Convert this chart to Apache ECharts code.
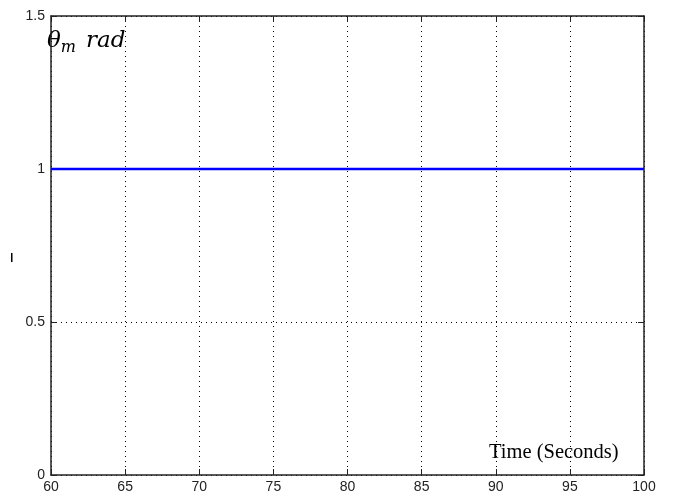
<!DOCTYPE html>
<html><head><meta charset="utf-8">
<script src="https://cdn.jsdelivr.net/npm/echarts@6/dist/echarts.min.js"></script>
<style>html,body{margin:0;padding:0;background:#fff}#c{width:674px;height:498px}</style>
</head><body><div id="c"></div>
<script>
const timeValues = [60, 65, 70, 75, 80, 85, 90, 95, 100];
const thetaValues = [1, 1, 1, 1, 1, 1, 1, 1, 1];
const xTicks = [60, 65, 70, 75, 80, 85, 90, 95, 100];
const yTicks = [0, 0.5, 1, 1.5];

const chart = echarts.init(document.getElementById('c'));
const dotted = {show: true, lineStyle: {color: '#000', width: 1, type: [1, 4]}};
const axLine = {show: true, onZero: false, lineStyle: {color: '#222', width: 1.5}};
const labelStyle = {color: '#222', fontFamily: 'Liberation Sans, Arial', fontSize: 14};
chart.setOption({
  animation: false,
  grid: {left: 51, right: 30, top: 16, bottom: 23, containLabel: false, outerBoundsMode: 'none'},
  xAxis: [
    {type: 'value', min: 60, max: 100, interval: 5, position: 'bottom',
     axisLine: axLine, axisTick: {show: true, inside: true, length: 6, lineStyle: {color: '#222'}},
     axisLabel: Object.assign({margin: 5}, labelStyle), splitLine: dotted},
    {type: 'value', min: 60, max: 100, interval: 5, position: 'top',
     axisLine: axLine, axisTick: {show: true, inside: true, length: 6, lineStyle: {color: '#222'}},
     axisLabel: {show: false}, splitLine: {show: false}}
  ],
  yAxis: [
    {type: 'value', min: 0, max: 1.5, interval: 0.5, position: 'left',
     axisLine: axLine, axisTick: {show: true, inside: true, length: 6, lineStyle: {color: '#222'}},
     axisLabel: Object.assign({margin: 6, formatter: v => String(v)}, labelStyle), splitLine: dotted},
    {type: 'value', min: 0, max: 1.5, interval: 0.5, position: 'right',
     axisLine: axLine, axisTick: {show: true, inside: true, length: 6, lineStyle: {color: '#222'}},
     axisLabel: {show: false}, splitLine: {show: false}}
  ],
  series: [{
    type: 'line', xAxisIndex: 0, yAxisIndex: 0, symbol: 'none',
    data: timeValues.map((t, i) => [t, thetaValues[i]]),
    lineStyle: {color: '#0000ff', width: 2.5}
  }],
  graphic: [
    {type: 'rect', left: 11, top: 253, shape: {width: 1.5, height: 9}, style: {fill: '#000'}},
    {type: 'text', left: 47, top: 30, style: {
      text: '{t|θ}{s|m}{t|rad}',
      rich: {
        t: {fontFamily: 'DejaVu Serif, Liberation Serif', fontStyle: 'italic', fontSize: 23, fill: '#000'},
        s: {fontFamily: 'DejaVu Serif, Liberation Serif', fontStyle: 'italic', fontSize: 16, fill: '#000', padding: [12, 10, 0, 0]}
      }}},
    {type: 'text', left: 489, top: 442, style: {
      text: 'Time (Seconds)', fontFamily: 'Liberation Serif, Times New Roman', fontSize: 20.5, fill: '#000'}}
  ]
});
</script></body></html>
